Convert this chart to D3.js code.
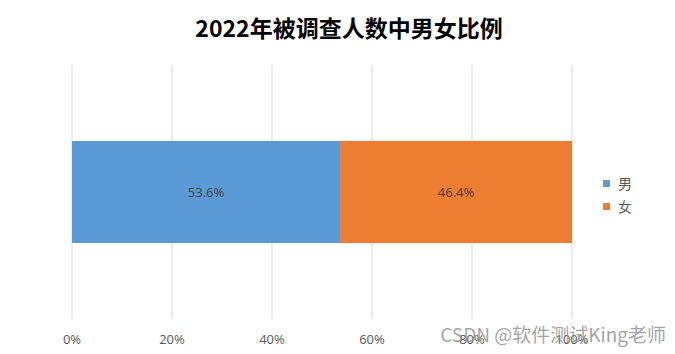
<!DOCTYPE html>
<html lang="zh">
<head>
    <meta charset="UTF-8">
    <title>2022年被调查人数中男女比例</title>
    <script src="https://d3js.org/d3.v7.min.js"></script>
    <style>
        body { margin: 0; background: #fff; }
        text { font-family: "Open Sans", "Noto Sans CJK SC", sans-serif; }
        .grid line { stroke: #d9d9d9; stroke-width: 1; }
        .tick text { fill: #595959; font-size: 13px; }
    </style>
</head>
<body>
<script>
    const width = 675;
    const height = 354;

    // data
    const categories = ["2022"];
    const seriesNames = ["男", "女"];
    const seriesValues = [0.536, 0.464];
    const seriesColors = ["#5B9BD5", "#ED7D31"];
    const tickValues = [0, 0.2, 0.4, 0.6, 0.8, 1.0];

    const svg = d3.select("body").append("svg")
        .attr("width", width).attr("height", height);

    const x = d3.scaleLinear().domain([0, 1]).range([72, 572]);
    const y = d3.scaleBand().domain(categories).range([65, 319]).padding(0.427);

    // title
    svg.append("text")
        .attr("x", 349).attr("y", 37)
        .attr("text-anchor", "middle")
        .style("font-family", "'Noto Sans CJK SC', sans-serif")
        .style("font-weight", "bold")
        .style("font-size", "23px")
        .attr("fill", "#000")
        .text("2022年被调查人数中男女比例");

    // gridlines
    svg.append("g").attr("class", "grid")
        .selectAll("line").data(tickValues).enter().append("line")
        .attr("x1", d => x(d)).attr("x2", d => x(d))
        .attr("y1", 65).attr("y2", 319);

    // tick labels
    svg.append("g").attr("class", "tick")
        .selectAll("text").data(tickValues).enter().append("text")
        .attr("x", d => x(d)).attr("y", 344)
        .attr("text-anchor", "middle")
        .text(d3.format(".0%"));

    // stacked segments
    let acc = 0;
    const stack = seriesValues.map((v, i) => {
        const s = {name: seriesNames[i], value: v, x0: acc, x1: acc + v, color: seriesColors[i]};
        acc += v;
        return s;
    });

    const bars = svg.append("g");
    bars.selectAll("rect").data(stack).enter().append("rect")
        .attr("x", d => x(d.x0))
        .attr("width", d => x(d.x1) - x(d.x0))
        .attr("y", y(categories[0]))
        .attr("height", y.bandwidth())
        .attr("fill", d => d.color);

    bars.selectAll("text").data(stack).enter().append("text")
        .attr("x", d => (x(d.x0) + x(d.x1)) / 2)
        .attr("y", y(categories[0]) + y.bandwidth() / 2 + 5)
        .attr("text-anchor", "middle")
        .attr("fill", "#404040")
        .style("font-size", "13px")
        .text(d => d3.format(".1%")(d.value));

    // legend
    const legend = svg.append("g")
        .selectAll("g").data(stack).enter().append("g")
        .attr("transform", (d, i) => `translate(603,${180 + i * 23})`);
    legend.append("rect")
        .attr("width", 7).attr("height", 7)
        .attr("fill", d => d.color);
    legend.append("text")
        .attr("x", 15).attr("y", 9)
        .attr("fill", "#595959")
        .style("font-size", "14px")
        .style("font-family", "'Noto Sans CJK SC', sans-serif")
        .text(d => d.name);

    // watermark
    svg.append("text")
        .attr("x", 666).attr("y", 342)
        .attr("text-anchor", "end")
        .attr("fill", "#8c8c8c")
        .attr("fill-opacity", 0.8)
        .style("font-size", "19px")
        .style("font-family", "'Noto Sans CJK SC', sans-serif")
        .text("CSDN @软件测试King老师");
</script>
</body>
</html>
